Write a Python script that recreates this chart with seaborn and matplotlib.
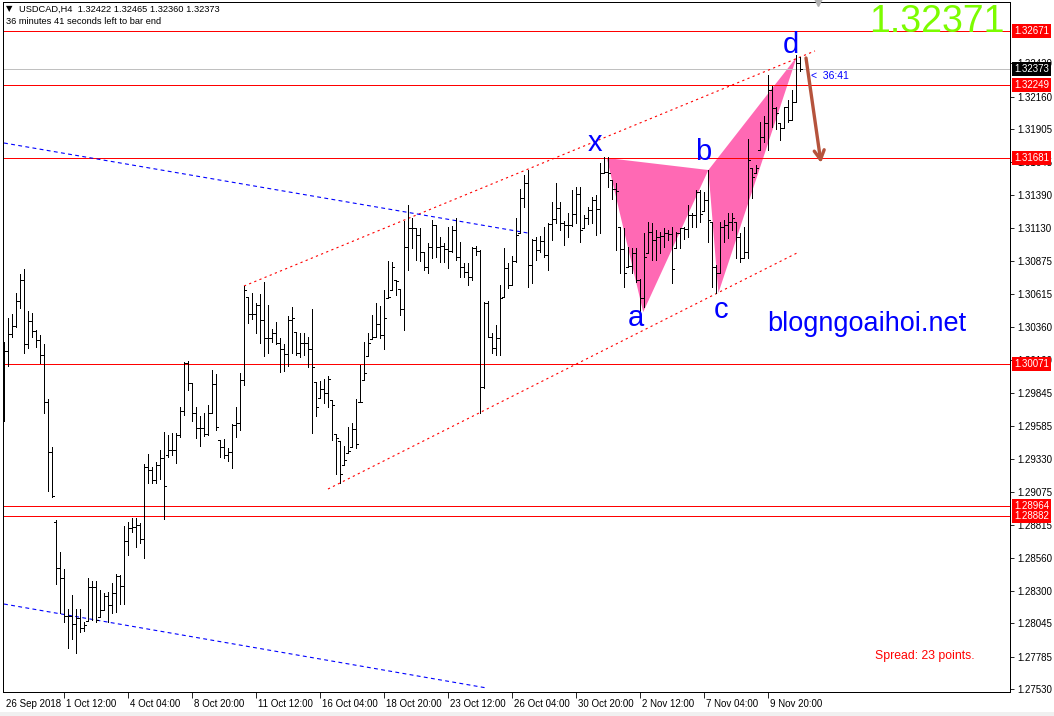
import matplotlib

matplotlib.use("Agg", force=True)
import numpy as np  # noqa: E402
import seaborn as sns  # noqa: E402
from matplotlib import pyplot as plt  # noqa: E402
from matplotlib import transforms  # noqa: E402
from matplotlib.patches import Polygon, Rectangle  # noqa: E402

W, H = 1054, 716

SYMBOL = "USDCAD,H4"
LAST_OHLC = [1.32422, 1.32465, 1.32360, 1.32373]
BIG_PRICE = "1.32371"
TIMER = "36:41"
SPREAD = "Spread: 23 points."
WATERMARK = "blogngoaihoi.net"

bar_open = [
    1.30190, 1.30173, 1.30306, 1.30368, 1.30563, 1.30727, 1.30227, 1.30407, 1.30329, 1.30259,
    1.30141, 1.29774, 1.29384, 1.28840, 1.28478, 1.28400, 1.28103, 1.28103, 1.28041, 1.28087,
    1.28009, 1.28064, 1.28330, 1.28330, 1.28095, 1.28150, 1.28259, 1.28189, 1.28283, 1.28415,
    1.28337, 1.28689, 1.28790, 1.28798, 1.28814, 1.28704, 1.29267, 1.29243, 1.29165, 1.29282,
    1.29337, 1.29360, 1.29400, 1.29400, 1.29517, 1.29704, 1.30079, 1.29923, 1.29689, 1.29571,
    1.29571, 1.29525, 1.29689, 1.29915, 1.29478, 1.29423, 1.29360, 1.29384, 1.29595, 1.29610,
    1.29946, 1.30594, 1.30462, 1.30462, 1.30532, 1.30415, 1.30274, 1.30274, 1.30313, 1.30235,
    1.30188, 1.30149, 1.30415, 1.30321, 1.30157, 1.30235, 1.30235, 1.30188, 1.29931, 1.29806,
    1.29876, 1.29845, 1.29790, 1.29525, 1.29470, 1.29282, 1.29376, 1.29423, 1.29564, 1.29774,
    1.29946, 1.30134, 1.30266, 1.30282, 1.30384, 1.30298, 1.30587, 1.30649, 1.30727, 1.30657,
    1.30501, 1.30985, 1.31133, 1.31133, 1.31079, 1.30946, 1.30829, 1.30985, 1.31157, 1.30985,
    1.30993, 1.30969, 1.30954, 1.31118, 1.30907, 1.30829, 1.30790, 1.30751, 1.30977, 1.30954,
    1.29891, 1.30548, 1.30282, 1.30196, 1.30274, 1.30594, 1.30821, 1.30688, 1.30876, 1.31094,
    1.31368, 1.31485, 1.30844, 1.31040, 1.30961, 1.31032, 1.30922, 1.31165, 1.31204, 1.31290,
    1.31172, 1.31157, 1.31157, 1.31243, 1.31399, 1.31133, 1.31211, 1.31274, 1.31352, 1.31282,
    1.31563, 1.31571, 1.31508, 1.31438, 1.31141, 1.30969, 1.30829, 1.30836, 1.30938, 1.30727,
    1.30587, 1.30938, 1.31102, 1.31040, 1.31063, 1.31071, 1.31094, 1.31086, 1.30977, 1.31094,
    1.31133, 1.31126, 1.31235, 1.31235, 1.31415, 1.31266, 1.31352, 1.31180, 1.30829, 1.30782,
    1.31141, 1.31157, 1.31180, 1.31180, 1.31063, 1.30899, 1.30946, 1.31602, 1.31563, 1.31742,
    1.31844, 1.31953, 1.32211, 1.32070, 1.31953, 1.31914, 1.32078, 1.31977, 1.32117, 1.32422,
]
bar_high = [
    1.30243, 1.30430, 1.30462, 1.30626, 1.30774, 1.30813, 1.30485, 1.30470, 1.30337, 1.30298,
    1.30227, 1.29798, 1.29423, 1.28853, 1.28603, 1.28470, 1.28158, 1.28267, 1.28158, 1.28158,
    1.28056, 1.28400, 1.28376, 1.28376, 1.28306, 1.28283, 1.28291, 1.28361, 1.28431, 1.28423,
    1.28806, 1.28837, 1.28868, 1.28868, 1.28829, 1.29290, 1.29368, 1.29267, 1.29306, 1.29400,
    1.29540, 1.29517, 1.29532, 1.29532, 1.29735, 1.30087, 1.30095, 1.29923, 1.29735, 1.29665,
    1.29689, 1.29751, 1.30024, 1.29993, 1.29478, 1.29485, 1.29415, 1.29603, 1.29735, 1.30001,
    1.30680, 1.30594, 1.30626, 1.30548, 1.30618, 1.30712, 1.30532, 1.30345, 1.30399, 1.30274,
    1.30227, 1.30446, 1.30516, 1.30321, 1.30313, 1.30313, 1.30282, 1.30501, 1.29931, 1.29938,
    1.29954, 1.29977, 1.29790, 1.29525, 1.29470, 1.29431, 1.29579, 1.29610, 1.29798, 1.30063,
    1.30243, 1.30313, 1.30454, 1.30548, 1.30524, 1.30649, 1.30876, 1.30868, 1.30727, 1.30657,
    1.31188, 1.31313, 1.31211, 1.31133, 1.31133, 1.30946, 1.31016, 1.31196, 1.31157, 1.31063,
    1.31016, 1.31141, 1.31149, 1.31211, 1.31024, 1.30860, 1.30860, 1.30985, 1.30993, 1.30961,
    1.30555, 1.30563, 1.30313, 1.30376, 1.30688, 1.30977, 1.30860, 1.30915, 1.31211, 1.31438,
    1.31547, 1.31586, 1.31047, 1.31063, 1.31071, 1.31141, 1.31172, 1.31336, 1.31485, 1.31336,
    1.31188, 1.31251, 1.31430, 1.31454, 1.31454, 1.31235, 1.31297, 1.31375, 1.31391, 1.31641,
    1.31688, 1.31688, 1.31508, 1.31485, 1.31141, 1.31133, 1.30985, 1.30977, 1.30977, 1.30735,
    1.31094, 1.31180, 1.31172, 1.31118, 1.31102, 1.31133, 1.31118, 1.31141, 1.31102, 1.31133,
    1.31141, 1.31313, 1.31251, 1.31430, 1.31430, 1.31415, 1.31586, 1.31180, 1.30844, 1.31180,
    1.31196, 1.31251, 1.31251, 1.31180, 1.31094, 1.31141, 1.31828, 1.31602, 1.31625, 1.31961,
    1.32008, 1.32328, 1.32242, 1.32078, 1.31953, 1.32078, 1.32133, 1.32211, 1.32484, 1.32465,
]
bar_low = [
    1.29626, 1.30056, 1.30282, 1.30360, 1.30509, 1.30157, 1.30196, 1.30282, 1.30204, 1.30079,
    1.29689, 1.29079, 1.29032, 1.28353, 1.28127, 1.28056, 1.27853, 1.27923, 1.27814, 1.27978,
    1.27986, 1.28064, 1.28072, 1.28056, 1.28095, 1.28150, 1.28056, 1.28127, 1.28134, 1.28197,
    1.28197, 1.28579, 1.28759, 1.28642, 1.28673, 1.28556, 1.29142, 1.29142, 1.29142, 1.29173,
    1.28861, 1.29345, 1.29360, 1.29298, 1.29501, 1.29673, 1.29868, 1.29626, 1.29493, 1.29431,
    1.29509, 1.29517, 1.29689, 1.29556, 1.29345, 1.29337, 1.29314, 1.29259, 1.29501, 1.29556,
    1.29907, 1.30391, 1.30423, 1.30313, 1.30235, 1.30134, 1.30157, 1.30243, 1.30227, 1.30009,
    1.30016, 1.30056, 1.30157, 1.30141, 1.30126, 1.30141, 1.30048, 1.29532, 1.29665, 1.29806,
    1.29767, 1.29735, 1.29478, 1.29212, 1.29142, 1.29282, 1.29376, 1.29423, 1.29415, 1.29774,
    1.29946, 1.30134, 1.30266, 1.30282, 1.30274, 1.30188, 1.30587, 1.30649, 1.30610, 1.30454,
    1.30337, 1.30805, 1.30977, 1.30883, 1.30876, 1.30805, 1.30782, 1.30899, 1.30907, 1.30868,
    1.30868, 1.30821, 1.30946, 1.30883, 1.30751, 1.30751, 1.30688, 1.30727, 1.30922, 1.29689,
    1.29884, 1.30282, 1.30157, 1.30141, 1.30141, 1.30594, 1.30665, 1.30688, 1.30868, 1.31094,
    1.31297, 1.30673, 1.30704, 1.30883, 1.30946, 1.30907, 1.30805, 1.31040, 1.31172, 1.31118,
    1.31001, 1.31063, 1.31149, 1.31172, 1.31024, 1.31133, 1.31165, 1.31172, 1.31079, 1.31094,
    1.31563, 1.31454, 1.31360, 1.30961, 1.30782, 1.30673, 1.30829, 1.30782, 1.30712, 1.30477,
    1.30516, 1.30938, 1.30883, 1.30883, 1.30938, 1.30985, 1.31040, 1.30704, 1.30977, 1.30977,
    1.31047, 1.31063, 1.31141, 1.31141, 1.31180, 1.31266, 1.31024, 1.30673, 1.30626, 1.30782,
    1.31024, 1.31055, 1.31118, 1.30899, 1.30868, 1.30899, 1.30899, 1.31368, 1.31563, 1.31742,
    1.31805, 1.31742, 1.31922, 1.31906, 1.31821, 1.31914, 1.31961, 1.31977, 1.32117, 1.32360,
]
bar_close = [
    1.30173, 1.30306, 1.30368, 1.30563, 1.30727, 1.30227, 1.30407, 1.30329, 1.30259, 1.30141,
    1.29774, 1.29384, 1.29040, 1.28478, 1.28400, 1.28103, 1.28103, 1.28041, 1.28087, 1.28009,
    1.28033, 1.28330, 1.28330, 1.28072, 1.28150, 1.28259, 1.28189, 1.28283, 1.28415, 1.28337,
    1.28689, 1.28790, 1.28798, 1.28814, 1.28704, 1.29267, 1.29243, 1.29165, 1.29282, 1.29337,
    1.29118, 1.29400, 1.29400, 1.29517, 1.29704, 1.30079, 1.29923, 1.29689, 1.29571, 1.29571,
    1.29525, 1.29689, 1.29915, 1.29579, 1.29423, 1.29360, 1.29384, 1.29595, 1.29610, 1.29946,
    1.30649, 1.30462, 1.30462, 1.30532, 1.30415, 1.30274, 1.30274, 1.30313, 1.30235, 1.30188,
    1.30149, 1.30415, 1.30430, 1.30157, 1.30235, 1.30235, 1.30188, 1.30048, 1.29735, 1.29876,
    1.29845, 1.29954, 1.29751, 1.29493, 1.29212, 1.29321, 1.29392, 1.29564, 1.29446, 1.29774,
    1.30001, 1.30235, 1.30282, 1.30384, 1.30298, 1.30430, 1.30594, 1.30829, 1.30719, 1.30501,
    1.30985, 1.31133, 1.31133, 1.31079, 1.30946, 1.30829, 1.30985, 1.31157, 1.30985, 1.30993,
    1.30969, 1.30954, 1.31118, 1.30907, 1.30829, 1.30790, 1.30751, 1.30977, 1.30954, 1.29891,
    1.30548, 1.30282, 1.30196, 1.30274, 1.30587, 1.30821, 1.30688, 1.30876, 1.31079, 1.31368,
    1.31485, 1.30844, 1.31040, 1.30961, 1.31032, 1.30922, 1.31165, 1.31204, 1.31290, 1.31172,
    1.31157, 1.31157, 1.31243, 1.31399, 1.31118, 1.31211, 1.31274, 1.31352, 1.31282, 1.31563,
    1.31571, 1.31563, 1.31438, 1.31422, 1.30969, 1.30782, 1.30836, 1.30938, 1.30727, 1.30587,
    1.30907, 1.31102, 1.31040, 1.31063, 1.31071, 1.31094, 1.31086, 1.30813, 1.31094, 1.31133,
    1.31126, 1.31235, 1.31235, 1.31415, 1.31243, 1.31352, 1.31196, 1.30829, 1.30782, 1.31141,
    1.31157, 1.31180, 1.31211, 1.31063, 1.30899, 1.30946, 1.31664, 1.31532, 1.31602, 1.31844,
    1.31953, 1.32211, 1.32070, 1.32031, 1.31914, 1.32078, 1.31977, 1.32117, 1.32422, 1.32373,
]

LEVELS = [1.32671, 1.32249, 1.31681, 1.30071, 1.28964, 1.28882]
BID = 1.32373

PRICE_TICKS = [
    1.32420, 1.32160, 1.31905, 1.31645, 1.31390, 1.31130, 1.30875, 1.30615, 1.30360, 1.30100,
    1.29845, 1.29585, 1.29330, 1.29075, 1.28815, 1.28560, 1.28300, 1.28045, 1.27785, 1.27530,
]
TIME_BARS = [0, 15, 31, 47, 63, 79, 95, 111, 127, 143, 159, 175, 191]
TIME_LABELS = [
    "26 Sep 2018", "1 Oct 12:00", "4 Oct 04:00", "8 Oct 20:00", "11 Oct 12:00",
    "16 Oct 04:00", "18 Oct 20:00", "23 Oct 12:00", "26 Oct 04:00", "30 Oct 20:00",
    "2 Nov 12:00", "7 Nov 04:00", "9 Nov 20:00",
]

# harmonic pattern points (bar position, price)
PATTERN_NAMES = ["x", "a", "b", "c", "d"]
PATTERN_BARS = [150.7, 159.8, 176.1, 178.6, 198.2]
PATTERN_PRICES = [1.31680, 1.30477, 1.31586, 1.30626, 1.32470]

# trendline anchors (bar position, price)
RED_UPPER_BARS = [60, 202.75]
RED_UPPER_PRICES = [1.30680, 1.32516]
RED_LOWER_BARS = [81, 198.75]
RED_LOWER_PRICES = [1.29095, 1.30946]
BLUE_UPPER_BARS = [0, 131]
BLUE_UPPER_PRICES = [1.31797, 1.31094]
BLUE_LOWER_BARS = [0, 120.75]
BLUE_LOWER_PRICES = [1.28197, 1.27541]
ARROW_BARS = [200.5, 204.25]
ARROW_PRICES = [1.32461, 1.31641]

PINK = "#FF69B4"
BLUE = "#0000FF"
SMALL = ["Liberation Sans", "DejaVu Sans"]
THIN = 0.6

sns.set_theme(style="white")
plt.rcParams["font.family"] = SMALL

fig = plt.figure(figsize=(W / 100, H / 100), dpi=100, facecolor="white")
ax = fig.add_axes([3 / W, 1 - 692 / H, (1010 - 3) / W, (692 - 2) / H])
ax.set_facecolor("white")
ax.set_xlim(-0.25, 251.5)
ax.set_ylim(1.27510, 1.32898)

idx = np.arange(len(bar_close))

# pattern triangles (behind bars)
pts = list(zip(PATTERN_BARS, PATTERN_PRICES))
ax.add_patch(Polygon([pts[0], pts[1], pts[2]], closed=True, fc=PINK, ec="none", zorder=1))
ax.add_patch(Polygon([pts[2], pts[3], pts[4]], closed=True, fc=PINK, ec="none", zorder=1))

# support / resistance lines
for level in LEVELS:
    ax.axhline(level, color="red", lw=THIN, zorder=2, antialiased=False)
ax.axhline(BID, color="#C0C0C0", lw=THIN, zorder=2, antialiased=False)

# trend channels
sns.lineplot(x=RED_UPPER_BARS, y=RED_UPPER_PRICES, ax=ax, color="red", lw=0.8,
             linestyle=(0, (2, 3)), zorder=2, legend=False)
sns.lineplot(x=RED_LOWER_BARS, y=RED_LOWER_PRICES, ax=ax, color="red", lw=0.8,
             linestyle=(0, (2, 3)), zorder=2, legend=False)
sns.lineplot(x=BLUE_UPPER_BARS, y=BLUE_UPPER_PRICES, ax=ax, color=BLUE, lw=0.8,
             linestyle=(0, (3.5, 3)), zorder=2, legend=False)
sns.lineplot(x=BLUE_LOWER_BARS, y=BLUE_LOWER_PRICES, ax=ax, color=BLUE, lw=0.8,
             linestyle=(0, (3.5, 3)), zorder=2, legend=False)

# OHLC bars
ax.vlines(idx, bar_low, bar_high, color="black", lw=THIN, zorder=3, antialiased=False)
ax.hlines(bar_open, idx - 0.4, idx, color="black", lw=THIN, zorder=3, antialiased=False)
ax.hlines(bar_close, idx, idx + 0.4, color="black", lw=THIN, zorder=3, antialiased=False)

# projection arrow
ax.annotate("", xy=(ARROW_BARS[1], ARROW_PRICES[1]), xytext=(ARROW_BARS[0], ARROW_PRICES[0]),
            arrowprops=dict(arrowstyle="->,head_length=0.55,head_width=0.3",
                            color="#B5533C", lw=2.4, shrinkA=0, shrinkB=0), zorder=5)

# pattern letters
label_offsets = {"x": (-3.0, 0.00115), "a": (-1.8, -0.00045), "b": (-1.3, 0.00140),
                 "c": (0.6, -0.00135), "d": (-1.4, 0.00095)}
for name, bx, pr in zip(PATTERN_NAMES, PATTERN_BARS, PATTERN_PRICES):
    dx, dy = label_offsets[name]
    ax.text(bx + dx, pr + dy, name, color=BLUE, fontsize=21, ha="center", va="center",
            family=SMALL, zorder=6)

ax.text(201.8, 1.32320, "<  " + TIMER, color=BLUE, fontsize=7.5, ha="left", va="center",
        family=SMALL, zorder=6)

# axes styling
for spine in ax.spines.values():
    spine.set_color("black")
    spine.set_linewidth(THIN)
    spine.set_antialiased(False)
ax.yaxis.tick_right()
ax.set_yticks(PRICE_TICKS)
ax.set_yticklabels([f"{p:.5f}" for p in PRICE_TICKS])
ax.set_xticks(TIME_BARS)
ax.set_xticklabels(TIME_LABELS)
ax.tick_params(axis="y", direction="out", length=3, width=THIN, pad=2, labelsize=7,
               colors="black", right=True, left=False)
ax.tick_params(axis="x", direction="out", length=4, width=THIN, pad=1, labelsize=7,
               colors="black", bottom=True)
offset = transforms.ScaledTranslation(2 / 100, 0, fig.dpi_scale_trans)
for lab in ax.get_xticklabels():
    lab.set_horizontalalignment("left")
    lab.set_transform(lab.get_transform() + offset)
ax.xaxis.get_major_ticks()[0].tick1line.set_visible(False)
ax.grid(False)

# price boxes on the right scale
blend = transforms.blended_transform_factory(ax.transAxes, ax.transData)
for level in LEVELS:
    ax.text(1.0 + 4 / 1007, level, f"{level:.5f}", transform=blend, color="white",
            fontsize=7, ha="left", va="center", clip_on=False, zorder=10,
            bbox=dict(boxstyle="square,pad=0.2", fc="red", ec="none"))
ax.text(1.0 + 4 / 1007, BID, f"{BID:.5f}", transform=blend, color="white", fontsize=7,
        ha="left", va="center", clip_on=False, zorder=11,
        bbox=dict(boxstyle="square,pad=0.2", fc="black", ec="none"))

# shift marker
ax.plot([203.5], [1.32898], marker="v", color="#B0B0B0", ms=6, clip_on=False, zorder=4)

# header texts
fig.text(6 / W, 1 - 9 / H, "\u25bc", fontsize=6, family=["DejaVu Sans"], va="center",
         color="black")
ohlc = " ".join(f"{v:.5f}" for v in LAST_OHLC)
fig.text(19 / W, 1 - 9 / H, f"{SYMBOL}  {ohlc}", fontsize=6.7, va="center", color="black")
fig.text(6 / W, 1 - 22 / H, "36 minutes 41 seconds left to bar end", fontsize=6.7,
         va="center", color="black")

fig.text(1005 / W, 1 - 22 / H, BIG_PRICE, fontsize=27, color="#7CFC00", ha="right",
         va="center", family=["Liberation Sans"])
fig.text(867 / W, 1 - 324 / H, WATERMARK, fontsize=19.5, color=BLUE, ha="center",
         va="center", family=["Liberation Sans"])
fig.text(925 / W, 1 - 656 / H, SPREAD, fontsize=8.8, color="red", ha="center",
         va="center", family=["Liberation Sans"])

fig.patches.append(Rectangle((0, 0), 1, 4 / H, transform=fig.transFigure,
                             fc="#F0F0F0", ec="none"))

fig.savefig("out.png", dpi=100, facecolor="white")
plt.close(fig)
